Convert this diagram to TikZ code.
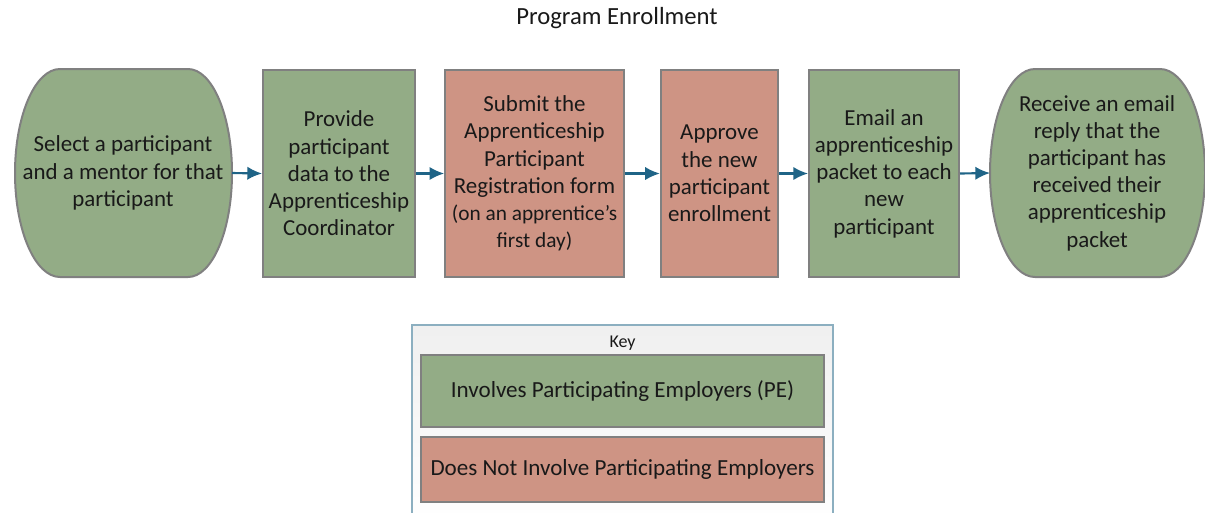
\documentclass[tikz,border=0pt]{standalone}
\usepackage{fontspec}
\setmainfont{Carlito}
\usetikzlibrary{arrows.meta}
\definecolor{pegreen}{RGB}{147,172,134}
\definecolor{pered}{RGB}{206,148,132}
\definecolor{boxline}{RGB}{128,128,128}
\definecolor{arrowblue}{RGB}{31,100,135}
\definecolor{keyline}{RGB}{140,175,192}
\definecolor{txt}{RGB}{25,25,25}
\tikzset{
  stepbox/.style={draw=boxline, line width=1.5pt, minimum height=155.5pt, inner sep=0pt,
    align=center, text=txt, font=\fontsize{17.2pt}{20.4pt}\selectfont},
  termtext/.style={inner sep=0pt, align=center, text=txt, font=\fontsize{17.2pt}{20.4pt}\selectfont},
  termshape/.style={draw=boxline, line width=1.5pt},
  flow/.style={draw=arrowblue, line width=1.6pt, -{Latex[length=11pt,width=10pt]}},
  keybox/.style={draw=boxline, line width=1.5pt, minimum width=302pt, inner sep=0pt,
    text=txt, font=\fontsize{17.3pt}{20pt}\selectfont},
}
\begin{document}
\begin{tikzpicture}[x=0.75pt,y=-0.75pt]
\clip (0,0) rectangle (1205,512);
\fill[white] (0,0) rectangle (1205,512);
% title
\node[text=txt, font=\fontsize{18.5pt}{22pt}\selectfont] (title) at (617,18) {Program Enrollment};
% left terminal
\path[termshape, fill=pegreen] (60,69) -- (188,69) arc[start angle=-90, end angle=90, x radius=44, y radius=104]
  -- (60,277) arc[start angle=90, end angle=270, x radius=45, y radius=104] -- cycle;
\node[termtext] (t1) at (123,173) {Select a participant\\and a mentor for that\\participant};
\coordinate (t1e) at (232,173);
% boxes
\node[stepbox, fill=pegreen, minimum width=114pt] (b2) at (339,173.5) {Provide\\participant\\data to the\\Apprenticeship\\Coordinator};
\node[stepbox, fill=pered, minimum width=134pt] (b3) at (534.5,173.5) {Submit the\\Apprenticeship\\Participant\\Registration form\\{\fontsize{16pt}{19pt}\selectfont (on an apprentice’s}\\{\fontsize{16pt}{19pt}\selectfont first day)}};
\node[stepbox, fill=pered, minimum width=88pt] (b4) at (719.5,173.5) {Approve\\the new\\participant\\enrollment};
\node[stepbox, fill=pegreen, minimum width=112.5pt] (b5) at (884,173.5) {Email an\\apprenticeship\\packet to each\\new\\participant};
% right terminal
\path[termshape, fill=pegreen] (1035,69) -- (1160,69) arc[start angle=-90, end angle=90, x radius=45, y radius=104]
  -- (1035,277) arc[start angle=90, end angle=270, x radius=45, y radius=104] -- cycle;
\node[termtext] (t6) at (1097,173) {Receive an email\\reply that the\\participant has\\received their\\apprenticeship\\packet};
\coordinate (t6w) at (990,173);
% arrows
\draw[flow] (t1e) -- (b2.west);
\draw[flow] (b2.east) -- (b3.west);
\draw[flow] (b3.east) -- (b4.west);
\draw[flow] (b4.east) -- (b5.west);
\draw[flow] (b5.east) -- (t6w);
% key
\path[draw=keyline, line width=1pt, top color=black!6, bottom color=white] (412,325) rectangle (833,530);
\node[text=txt, font=\fontsize{13.5pt}{15pt}\selectfont] (keytitle) at (622.5,343) {Key};
\node[keybox, fill=pegreen, minimum height=54pt] (k1) at (622.5,391) {Involves Participating Employers (PE)};
\node[keybox, fill=pered, minimum height=48.75pt] (k2) at (622.5,469.5) {Does Not Involve Participating Employers};
\end{tikzpicture}
\end{document}
